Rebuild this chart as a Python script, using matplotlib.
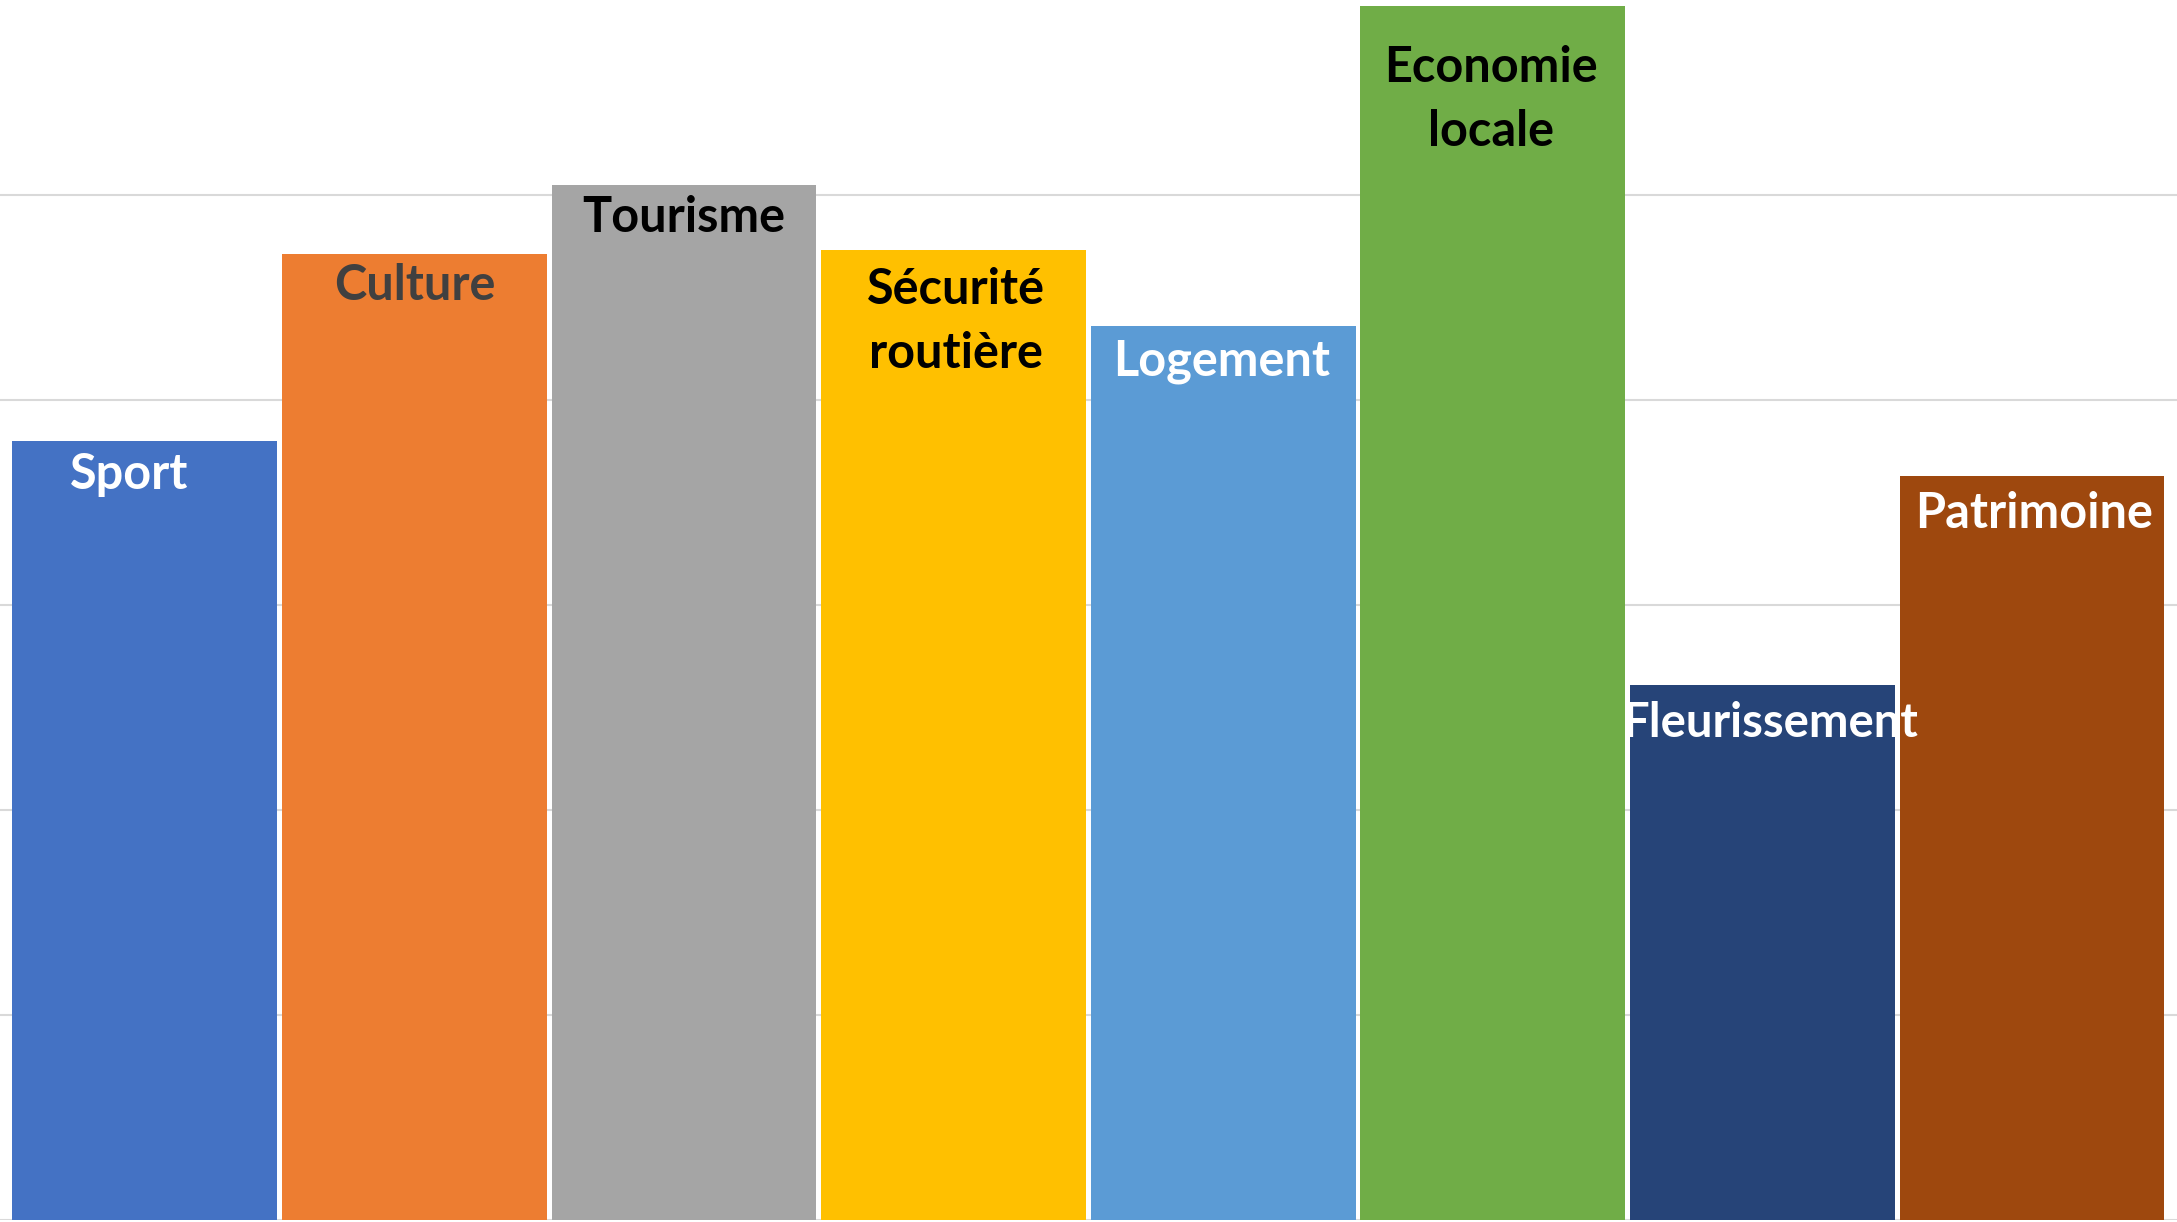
import numpy as np
import matplotlib
matplotlib.use("Agg")
from matplotlib import pyplot as plt

categories = ["Sport", "Culture", "Tourisme", "Sécurité\nroutière", "Logement",
              "Economie\nlocale", "Fleurissement", "Patrimoine"]
values = [3.80, 4.71, 5.05, 4.73, 4.36, 5.92, 2.61, 3.63]
bar_colors = ["#4472C4", "#ED7D31", "#A5A5A5", "#FFC000", "#5B9BD5",
              "#70AD47", "#264478", "#9E480E"]
text_colors = ["white", "#404040", "black", "black", "white",
               "black", "white", "white"]
# distance (px) from bar top down to first baseline
label_drop = [48, 46, 47, 54, 49, 76, 52, 52]
label_shift = [-16, 0, 0, 2, -2, -2, 8, 2]

plt.rcParams['font.family'] = ['Lato', 'DejaVu Sans']

fig = plt.figure(figsize=(21.77, 12.22), dpi=100)
ax = fig.add_axes([0, 2/1222, 1, 1220/1222])
x = np.arange(len(categories))
bars = ax.bar(x, values, width=0.982, color=bar_colors, zorder=2)
ax.set_xlim(-0.537, 7.538)
ax.set_ylim(0, 5.95)
ax.set_yticks(np.arange(0, 6, 1))
ax.yaxis.grid(True, color="#D9D9D9", linewidth=1.5, zorder=0)
ax.set_axisbelow(True)
ax.tick_params(left=False, bottom=False, labelleft=False, labelbottom=False)
for s in ax.spines.values():
    s.set_visible(False)

line_gap = 64
for i in range(len(categories)):
    lines = categories[i].split("\n")
    fs = 34 if len(lines[0]) > 12 else 35
    for k in range(len(lines)):
        ax.annotate(lines[k], xy=(x[i], values[i]),
                    xytext=(label_shift[i], -label_drop[i] - k*line_gap),
                    textcoords="offset pixels", ha="center", va="baseline",
                    fontsize=fs, fontweight="bold", color=text_colors[i],
                    zorder=3)

fig.savefig("out.png", dpi=100)
